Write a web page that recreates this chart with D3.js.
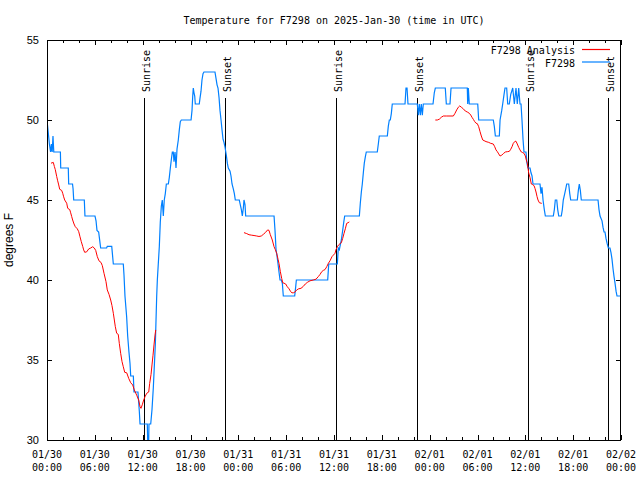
<!DOCTYPE html>
<html><head><meta charset="utf-8">
<script src="https://cdn.jsdelivr.net/npm/d3@7"></script>
<style>body{margin:0;background:#fff}svg{display:block}</style>
</head><body><svg id="c" width="640" height="480"></svg>
<script>
// ---------- data ----------
const chartTitle = "Temperature for F7298 on 2025-Jan-30 (time in UTC)";
const yAxisLabel = "degrees F";
const yTickValues = [30, 35, 40, 45, 50, 55];
const xMajorHours = [0, 6, 12, 18, 24, 30, 36, 42, 48, 54, 60, 66, 72];
const xTickLabels = ["01/30 00:00","01/30 06:00","01/30 12:00","01/30 18:00",
  "01/31 00:00","01/31 06:00","01/31 12:00","01/31 18:00",
  "02/01 00:00","02/01 06:00","02/01 12:00","02/01 18:00","02/02 00:00"];
const sunLabels = ["Sunrise","Sunset","Sunrise","Sunset","Sunrise","Sunset"];
const sunHours  = [12.22, 22.38, 36.28, 46.45, 60.37, 70.4];
const legendNames = ["F7298 Analysis", "F7298"];

// observations: [hours since 01/30 00:00 UTC, °F]
const obsF7298 = [[0,50],[0.1,49.5],[0.2,49],[0.3,48.5],[0.45,48],[0.55,48.5],[0.65,48],[0.75,49],[0.85,48],[1.68,48],[1.72,47],[2.67,47],[2.72,46],[3.2,46],[3.27,45.7],[3.35,45],[4.68,45],[4.76,44],[6.02,44],[6.15,43.7],[6.27,43.1],[6.48,43],[6.58,42.6],[6.73,42],[7.48,42],[7.56,42.1],[8.12,42.1],[8.32,41],[9.57,41],[9.66,40.3],[9.78,39],[9.99,37.7],[10.12,36.5],[10.28,35.5],[10.41,34.8],[10.5,34],[10.83,34],[10.91,33],[11.41,33],[11.58,31.8],[11.67,31],[12.58,31],[12.63,30],[12.76,30],[12.79,31],[13.01,31],[13.17,31.9],[13.34,33.3],[13.59,36],[13.76,39],[13.84,40],[14.09,42.1],[14.21,43.6],[14.34,44.6],[14.46,45],[14.59,44],[14.71,45],[14.84,45.4],[14.97,46],[15.22,46],[15.34,46.4],[15.47,47],[15.59,47.5],[15.72,48],[15.84,48],[15.93,47.4],[16.06,48],[16.18,47],[16.31,48.2],[16.47,48.75],[16.6,49.4],[16.72,49.9],[16.85,50],[18.07,50],[18.19,50.6],[18.28,51.5],[18.35,52],[18.44,51.7],[18.53,51.5],[18.6,51],[19.1,51],[19.19,51.35],[19.32,51.8],[19.44,52.5],[19.57,52.9],[19.69,53],[21.07,53],[21.2,52.6],[21.33,52.2],[21.45,52],[21.58,51.4],[21.7,50.6],[21.83,50],[21.95,49.4],[22.08,48.8],[22.2,48.6],[22.33,48.3],[22.49,47.8],[22.62,47.3],[22.74,47],[22.96,46.8],[23.08,46.5],[23.21,46],[23.37,45.7],[23.5,45.4],[23.62,45],[24.12,45],[24.25,44.7],[24.38,44.4],[24.5,44],[24.63,44.5],[24.71,45],[24.84,44.7],[24.92,44],[28.48,44],[28.6,43.1],[28.73,41.9],[28.85,41.5],[28.98,41],[29.1,40.5],[29.23,40],[29.39,40],[29.52,39.8],[29.64,39],[31.07,39],[31.2,39.6],[31.28,40],[35.21,40],[35.34,41],[36.42,41],[36.54,42],[36.67,41.9],[36.79,42.2],[36.92,42.5],[37.09,43.1],[37.22,43.6],[37.34,44],[39.18,44],[39.3,44.8],[39.43,45.5],[39.55,46],[39.68,46.7],[39.8,47.3],[39.93,47.7],[40.05,48],[41.43,48],[41.56,48.5],[41.68,49],[42.69,49],[42.81,49.6],[42.94,50],[43.06,50],[43.19,50.4],[43.31,51],[44.91,51],[45.03,52],[45.16,52],[45.28,51],[46.45,51],[46.58,50.3],[46.7,51],[46.83,50.3],[46.95,51],[47.08,50.3],[47.2,51],[48.42,51],[48.58,51.7],[48.71,52],[49.96,52],[50.09,51],[50.55,51],[50.68,52],[52.72,52],[52.77,51],[52.85,52],[52.97,51],[54.03,51],[54.15,50],[55.98,50],[56.11,49.6],[56.24,49],[56.74,49],[56.83,50],[57.04,50.6],[57.16,51],[57.33,51.6],[57.45,52],[57.66,52],[57.79,51],[57.99,51],[58.17,51.6],[58.42,52],[58.62,51],[58.83,52],[58.99,51],[59.17,52],[59.33,51],[59.46,51],[59.58,50],[59.71,48.8],[59.83,48],[60.08,48],[60.21,47.3],[60.33,47],[60.59,47],[60.71,46.7],[60.84,46.5],[60.96,46],[61.84,46],[61.97,45.4],[62.09,45.8],[62.22,45],[62.38,44.4],[62.51,44],[63.51,44],[63.64,44.4],[63.76,45],[63.94,45],[64.06,44.4],[64.19,44],[64.51,44],[64.64,44.4],[64.76,45],[64.94,45.4],[65.07,45.7],[65.19,46],[65.44,46],[65.57,45.4],[65.69,45],[66.52,45],[66.65,45.6],[66.77,46],[66.9,45.6],[67.02,45],[69.12,45],[69.24,44.4],[69.37,44],[69.62,43.7],[69.74,43.3],[69.87,43],[69.99,43],[70.12,42.6],[70.25,42.3],[70.41,42],[70.62,42],[70.75,41.7],[70.87,41.3],[71,40.7],[71.13,40.2],[71.25,39.8],[71.38,39.3],[71.5,39],[72,39]];

// analysis: [hours, °F], null = gap
const analysisF7298 = [[0.5,47.3],[0.79,47.35],[0.92,47.1],[1.04,46.9],[1.22,46.46],[1.34,46.2],[1.47,45.94],[1.59,45.67],[1.84,45.6],[1.97,45.42],[2.09,45.2],[2.22,45],[2.47,44.8],[2.6,44.48],[2.85,44.4],[2.97,44.2],[3.1,43.96],[3.22,43.75],[3.39,43.5],[3.55,43.33],[3.8,43.2],[3.98,43.02],[4.14,42.7],[4.3,42.4],[4.48,42.1],[4.6,41.88],[4.73,41.73],[4.98,41.76],[5.23,41.94],[5.48,42.0],[5.73,42.08],[5.93,42.0],[6.11,41.85],[6.31,41.46],[6.52,41.2],[6.77,41.1],[6.94,40.9],[7.15,40.42],[7.4,39.9],[7.56,39.38],[7.78,39.1],[7.99,38.75],[8.15,38.4],[8.32,37.92],[8.57,37.08],[8.74,36.67],[8.94,36.6],[9.07,36.04],[9.24,35.42],[9.41,34.9],[9.57,34.58],[9.75,34.23],[10,34.2],[10.25,33.85],[10.5,33.58],[10.75,33.44],[10.95,33.13],[11.25,32.8],[11.5,32.5],[11.67,32.08],[11.79,31.98],[11.95,32.2],[12.13,32.5],[12.29,32.7],[12.51,32.92],[12.76,33],[12.88,33.54],[13.05,34.1],[13.17,34.69],[13.3,35.3],[13.42,35.94],[13.55,36.56],[13.64,36.88],
null,
[24.71,42.96],[25.05,42.9],[25.34,42.83],[25.68,42.8],[25.97,42.78],[26.31,42.75],[26.59,42.72],[26.88,42.75],[27.13,42.85],[27.38,42.96],[27.68,43.13],[27.85,43.1],[28.0,42.85],[28.26,42.5],[28.48,42.08],[28.64,41.9],[28.81,41.67],[28.98,41.3],[29.1,41.04],[29.27,40.52],[29.44,40.1],[29.57,39.83],[29.73,39.8],[29.94,39.75],[30.14,39.58],[30.36,39.45],[30.57,39.27],[30.73,39.2],[30.9,39.2],[31.11,39.25],[31.32,39.38],[31.57,39.45],[31.86,39.48],[32.15,39.6],[32.4,39.75],[32.65,39.85],[32.99,39.95],[33.4,40],[33.74,40.05],[34.03,40.21],[34.25,40.35],[34.46,40.52],[34.66,40.6],[34.87,40.65],[35.09,40.83],[35.29,41.04],[35.5,41.2],[35.75,41.46],[35.91,41.55],[36.13,41.67],[36.25,41.9],[36.42,42.08],[36.59,42.2],[36.75,42.27],[36.92,42.33],[37.09,42.6],[37.26,42.92],[37.42,43.2],[37.59,43.54],[37.76,43.58],[37.92,43.63],
null,
[48.71,50.0],[48.96,50.0],[49.21,50.05],[49.46,50.17],[49.71,50.25],[50.14,50.25],[50.55,50.25],[50.97,50.25],[51.18,50.42],[51.39,50.63],[51.6,50.8],[51.77,50.88],[51.97,50.8],[52.22,50.7],[52.47,50.56],[52.72,50.5],[52.97,50.42],[53.15,50.31],[53.31,50.17],[53.48,50.04],[53.65,49.9],[53.81,49.8],[53.98,49.77],[54.15,49.58],[54.32,49.27],[54.48,49],[54.66,48.75],[54.82,48.71],[55.07,48.65],[55.41,48.6],[55.66,48.54],[55.98,48.5],[56.16,48.33],[56.32,48.13],[56.49,48.02],[56.66,47.88],[56.83,47.75],[57.04,47.8],[57.24,47.9],[57.49,48],[57.74,48.02],[57.99,48.04],[58.17,48.17],[58.33,48.33],[58.49,48.54],[58.71,48.67],[58.83,48.67],[58.99,48.5],[59.17,48.29],[59.33,48.13],[59.5,48],[59.67,47.96],[59.83,47.92],[60,47.75],[60.12,47.5],[60.25,47.3],[60.34,46.98],[60.42,46.7],[60.59,46.4],[60.75,46],[60.92,45.96],[61.09,45.9],[61.21,45.73],[61.34,45.5],[61.47,45.21],[61.59,45.0],[61.76,44.83],[62.06,44.79]];

// ---------- drawing ----------
const W = 640, H = 480;
const L = 47, R = 621, T = 40, B = 440;
const mono = "'DejaVu Sans Mono', 'Liberation Mono', monospace";
const sans = "'Liberation Sans', Arial, sans-serif";
const svg = d3.select("#c");
svg.append("rect").attr("width", W).attr("height", H).attr("fill", "#fff");

const x = d3.scaleLinear().domain([0, 72]).range([L, R]);
const y = d3.scaleLinear().domain([30, 55]).range([B, T]);
const xMinor = d3.range(0, 73, 2).filter(h => h % 6 !== 0);

svg.append("defs").append("clipPath").attr("id", "clip")
  .append("rect").attr("x", L).attr("y", T).attr("width", R - L).attr("height", B - T);

// ticks
function styleAxis(g) {
  g.select(".domain").remove();
  g.selectAll("line").attr("stroke", "#000").attr("shape-rendering", "crispEdges");
}
svg.append("g").attr("transform", `translate(0,${B})`)
  .call(d3.axisBottom(x).tickValues(xMajorHours).tickSizeInner(-5).tickSizeOuter(0).tickFormat(""))
  .call(styleAxis);
svg.append("g").attr("transform", `translate(0,${B})`)
  .call(d3.axisBottom(x).tickValues(xMinor).tickSizeInner(-3).tickSizeOuter(0).tickFormat(""))
  .call(styleAxis);
svg.append("g").attr("transform", `translate(0,${T})`)
  .call(d3.axisTop(x).tickValues(xMajorHours).tickSizeInner(-5).tickSizeOuter(0).tickFormat(""))
  .call(styleAxis);
svg.append("g").attr("transform", `translate(0,${T})`)
  .call(d3.axisTop(x).tickValues(xMinor).tickSizeInner(-3).tickSizeOuter(0).tickFormat(""))
  .call(styleAxis);
const yl = svg.append("g").attr("transform", `translate(${L},0)`)
  .call(d3.axisLeft(y).tickValues(yTickValues).tickSizeInner(-5).tickSizeOuter(0).tickPadding(8))
  .call(styleAxis);
yl.selectAll("text").attr("font-family", sans).attr("font-size", 11).attr("fill", "#000");
svg.append("g").attr("transform", `translate(${R},0)`)
  .call(d3.axisRight(y).tickValues(yTickValues).tickSizeInner(-5).tickSizeOuter(0).tickFormat(""))
  .call(styleAxis);

// x tick labels (two lines)
const xl = svg.append("g").attr("font-family", mono).attr("font-size", 10).attr("fill", "#000")
  .attr("text-anchor", "middle");
xMajorHours.forEach((h, i) => {
  const parts = xTickLabels[i].split(" ");
  const t = xl.append("text").attr("x", x(h)).attr("y", 458);
  t.append("tspan").attr("x", x(h)).attr("y", 458).text(parts[0]);
  t.append("tspan").attr("x", x(h)).attr("y", 471).text(parts[1]);
});

// sun lines
const sunTop = T + 58;
sunHours.forEach((h, i) => {
  const sx = Math.round(x(h)) + 0.5;
  svg.append("line").attr("x1", sx).attr("x2", sx).attr("y1", sunTop).attr("y2", B)
    .attr("stroke", "#000").attr("stroke-width", 1).attr("shape-rendering", "crispEdges");
  svg.append("text").attr("transform", `translate(${sx + 5.5},${sunTop - 6}) rotate(-90)`)
    .attr("font-family", mono).attr("font-size", 10).attr("fill", "#000")
    .text(sunLabels[i]);
});

// series
const line = d3.line().defined(d => d !== null).x(d => x(d[0])).y(d => y(d[1]));
const plot = svg.append("g").attr("clip-path", "url(#clip)");
plot.append("path").datum(obsF7298).attr("d", line)
  .attr("fill", "none").attr("stroke", "#0080ff").attr("stroke-width", 1.2);
plot.append("path").datum(analysisF7298).attr("d", line)
  .attr("fill", "none").attr("stroke", "#ff0000").attr("stroke-width", 1);

// frame
svg.append("rect").attr("x", L + 0.5).attr("y", T + 0.5).attr("width", R - L - 1).attr("height", B - T)
  .attr("fill", "none").attr("stroke", "#000").attr("stroke-width", 1).attr("shape-rendering", "crispEdges");

// legend
const legendColors = ["#ff0000", "#0080ff"];
legendNames.forEach((n, i) => {
  const by = 54 + i * 12.5;
  svg.append("text").attr("x", 575).attr("y", by).attr("text-anchor", "end")
    .attr("font-family", mono).attr("font-size", 10).attr("fill", "#000").text(n);
  svg.append("line").attr("x1", 582).attr("x2", 610).attr("y1", by - 4.5).attr("y2", by - 4.5)
    .attr("stroke", legendColors[i]).attr("stroke-width", 1.2);
});

// title & y label
svg.append("text").attr("x", (L + R) / 2).attr("y", 24).attr("text-anchor", "middle")
  .attr("font-family", mono).attr("font-size", 10).attr("fill", "#000").text(chartTitle);
svg.append("text").attr("transform", `translate(13,${(T + B) / 2}) rotate(-90)`)
  .attr("text-anchor", "middle").attr("font-family", sans).attr("font-size", 12)
  .attr("fill", "#000").text(yAxisLabel);
</script></body></html>
